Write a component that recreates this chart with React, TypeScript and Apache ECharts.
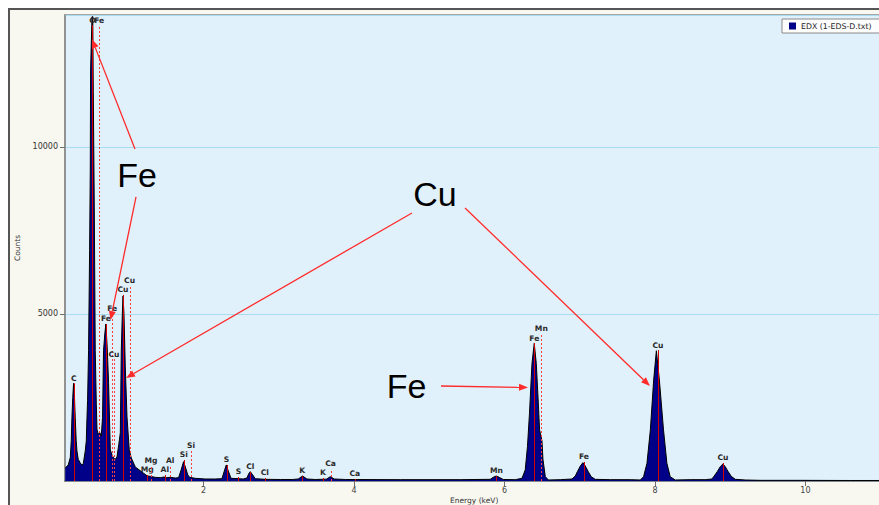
import React, { useEffect, useRef } from "react";
import * as echarts from "echarts";

// EDX spectrum: [energy keV, counts]
const spectrum: [number, number][] = [
  [0.163, 390], [0.177, 420], [0.203, 480], [0.23, 700], [0.243, 1200], [0.252, 1900],
  [0.263, 2500], [0.274, 2925], [0.286, 2500], [0.296, 1900], [0.309, 1200], [0.319, 900],
  [0.336, 650], [0.363, 540], [0.385, 480], [0.403, 520], [0.429, 900], [0.443, 1200],
  [0.452, 1900], [0.46, 2400], [0.473, 3900], [0.487, 6900], [0.496, 9370], [0.5, 12300],
  [0.519, 13900], [0.529, 13900], [0.536, 11650], [0.549, 8200], [0.562, 3900], [0.576, 2300],
  [0.585, 1550], [0.602, 1400], [0.622, 1450], [0.642, 1350], [0.659, 1900], [0.672, 3900],
  [0.689, 4400], [0.703, 4700], [0.721, 4000], [0.739, 2950], [0.762, 930], [0.782, 800],
  [0.805, 690], [0.828, 650], [0.851, 720], [0.875, 1100], [0.895, 1440], [0.908, 3920],
  [0.922, 5000], [0.931, 5540], [0.944, 5000], [0.961, 3420], [0.984, 1920], [1.014, 930],
  [1.041, 690], [1.094, 420], [1.183, 270], [1.253, 150], [1.293, 140], [1.359, 110],
  [1.426, 100], [1.479, 120], [1.505, 100], [1.558, 110], [1.625, 90], [1.669, 100],
  [1.699, 300], [1.736, 580], [1.765, 380], [1.792, 180], [1.816, 110], [1.891, 80],
  [2.024, 60], [2.157, 60], [2.246, 70], [2.277, 300], [2.303, 480], [2.33, 300],
  [2.366, 80], [2.463, 70], [2.529, 60], [2.578, 90], [2.602, 220], [2.622, 280],
  [2.649, 200], [2.689, 70], [2.822, 50], [3.021, 45], [3.18, 45], [3.26, 60],
  [3.317, 150], [3.375, 60], [3.486, 45], [3.633, 55], [3.686, 130], [3.739, 60],
  [3.886, 45], [4.615, 40], [5.412, 40], [5.811, 50], [5.851, 110], [5.891, 150],
  [5.931, 110], [5.984, 45], [6.144, 40], [6.233, 80], [6.276, 330], [6.306, 1030],
  [6.333, 2030], [6.366, 3520], [6.396, 4120], [6.423, 3520], [6.446, 2520], [6.467, 1530],
  [6.499, 1200], [6.512, 650], [6.543, 130], [6.585, 30], [6.742, 40], [6.898, 60],
  [6.942, 150], [6.969, 280], [7.009, 450], [7.043, 550], [7.074, 450], [7.114, 280],
  [7.153, 130], [7.207, 50], [7.407, 40], [7.673, 40], [7.806, 30], [7.849, 130],
  [7.894, 530], [7.939, 1530], [7.983, 3020], [8.019, 3900], [8.059, 3020], [8.114, 1530],
  [8.159, 530], [8.203, 130], [8.27, 30], [8.469, 40], [8.669, 40], [8.757, 60],
  [8.788, 150], [8.828, 280], [8.868, 430], [8.904, 510], [8.934, 430], [8.974, 280],
  [9.014, 140], [9.068, 50], [9.201, 30], [9.4, 20], [9.932, 20], [10.597, 15], [10.982, 15],
];

// Identified element lines
const lineLabels = [
  "C", "O", "Fe", "Fe", "Fe", "Cu", "Cu", "Cu", "Mg", "Mg", "Al", "Al", "Si", "Si",
  "S", "S", "Cl", "Cl", "K", "K", "Ca", "Ca", "Mn", "Fe", "Mn", "Fe", "Cu", "Cu",
];
const lineEnergy = [
  0.277, 0.525, 0.615, 0.705, 0.788, 0.811, 0.93, 1.018, 1.253, 1.302, 1.486, 1.557, 1.74, 1.836,
  2.307, 2.464, 2.622, 2.815, 3.312, 3.589, 3.69, 4.012, 5.894, 6.398, 6.49, 7.057, 8.04, 8.904,
];
const lineHeight = [
  2925, 13650, 13650, 4700, 5000, 3650, 5570, 5840, 180, 450, 180, 450, 630, 900,
  480, 120, 270, 90, 150, 90, 360, 60, 150, 4130, 4430, 570, 3920, 540,
];
// 1 = secondary line, drawn dotted
const lineDotted = [
  0, 0, 1, 0, 1, 1, 0, 1, 0, 1, 0, 1, 0, 1,
  0, 0, 0, 0, 0, 0, 1, 0, 0, 0, 1, 0, 0, 0,
];

// Callout texts and arrows, in [keV, counts]
const calloutTexts = ["Fe", "Cu", "Fe"];
const calloutAt: [number, number][] = [[1.117, 9147], [5.077, 8593], [4.698, 2844]];
const arrowFrom: [number, number][] = [
  [1.09, 9940], [1.104, 8503], [4.771, 8024], [5.476, 8174], [5.157, 2844],
];
const arrowTo: [number, number][] = [
  [0.519, 13224], [0.765, 4820], [0.971, 3084], [7.934, 2844], [6.313, 2799],
];

const xTicks = [2, 4, 6, 8, 10];
const SERIES_NAME = "EDX (1-EDS-D.txt)";

export default function App() {
  const ref = useRef<HTMLDivElement>(null);

  useEffect(() => {
    document.documentElement.style.overflow = "hidden";
    const chart = echarts.init(ref.current!, null, { renderer: "svg" });
    const labelFont = "bold 7.6px 'DejaVu Sans', sans-serif";

    chart.setOption({
      animation: false,
      grid: {
        left: 55,
        top: 5,
        width: 853.3,
        height: 466,
        outerBoundsMode: "none",
        containLabel: false,
        show: true,
        backgroundColor: "#e1f1fb",
        borderColor: "#8c8c8c",
        borderWidth: 1.5,
      },
      legend: {
        data: [{ name: SERIES_NAME, icon: "rect" }],
        left: 772,
        top: 9,
        itemWidth: 7,
        itemHeight: 7,
        itemGap: 5,
        padding: [3, 8, 3, 7],
        backgroundColor: "#fdfdfd",
        borderColor: "#8a8a8a",
        borderWidth: 1,
        textStyle: { fontSize: 7.8, color: "#222", fontFamily: "DejaVu Sans" },
      },
      xAxis: {
        type: "value",
        min: 0.16,
        max: 11.5,
        axisLine: { show: true, lineStyle: { color: "#6e6e6e", width: 1.5 } },
        axisTick: { show: true, length: 5, customValues: xTicks, lineStyle: { color: "#6e6e6e" } },
        axisLabel: {
          customValues: xTicks,
          fontSize: 8,
          color: "#444",
          margin: 5,
          fontFamily: "DejaVu Sans",
          formatter: (v: number) => String(v),
        },
        splitLine: { show: false },
      },
      yAxis: {
        type: "value",
        min: 0,
        max: 13950,
        interval: 5000,
        name: "Counts",
        nameLocation: "middle",
        nameGap: 43,
        nameRotate: 90,
        nameTextStyle: { fontSize: 7.5, color: "#333", fontFamily: "DejaVu Sans" },
        axisLine: { show: true, lineStyle: { color: "#8c8c8c", width: 1.5 } },
        axisTick: { show: true, length: 5, lineStyle: { color: "#6e6e6e" } },
        axisLabel: {
          fontSize: 8,
          color: "#333",
          margin: 7,
          showMinLabel: false,
          showMaxLabel: false,
          fontFamily: "DejaVu Sans",
          formatter: (v: number) => String(v),
        },
        splitLine: { show: true, lineStyle: { color: "#a9dcf3", width: 1 } },
      },
      series: [
        {
          name: SERIES_NAME,
          type: "line",
          data: spectrum,
          color: "#000088",
          showSymbol: false,
          symbol: "none",
          lineStyle: { color: "#000", width: 1 },
          areaStyle: { color: "#000088", opacity: 1 },
          z: 2,
        },
        {
          type: "custom",
          silent: true,
          z: 3,
          data: lineEnergy.map((e, i) => [e, lineHeight[i], lineDotted[i]]),
          renderItem: (params: any, api: any) => {
            const e = api.value(0);
            const h = api.value(1);
            const dotted = api.value(2) === 1;
            const p0 = api.coord([e, 0]);
            const p1 = api.coord([e, h]);
            const x = Math.round(p0[0]) + 0.5;
            return {
              type: "group",
              children: [
                {
                  type: "line",
                  shape: { x1: x, y1: p0[1], x2: x, y2: p1[1] },
                  style: {
                    stroke: dotted ? "#ff3c3c" : "#d40000",
                    lineWidth: 1,
                    lineDash: dotted ? [2, 2] : null,
                  },
                },
                {
                  type: "text",
                  x: p1[0],
                  y: p1[1] - 1,
                  style: {
                    text: lineLabels[params.dataIndex],
                    font: labelFont,
                    fill: "#2a2a2a",
                    align: "center",
                    verticalAlign: "bottom",
                  },
                },
              ],
            };
          },
        },
      ],
    });

    // Callout texts and red arrows placed through the grid's coordinate system
    const toPx = (p: [number, number]) =>
      chart.convertToPixel({ xAxisIndex: 0, yAxisIndex: 0 }, p) as number[];
    const graphics: any[] = [];
    calloutTexts.forEach((t, i) => {
      const p = toPx(calloutAt[i]);
      graphics.push({
        type: "text",
        x: p[0],
        y: p[1],
        z: 10,
        style: {
          text: t,
          font: "34px 'Liberation Sans', Arial, sans-serif",
          fill: "#000",
          align: "center",
          verticalAlign: "middle",
        },
      });
    });
    arrowFrom.forEach((from, i) => {
      const a = toPx(from);
      const b = toPx(arrowTo[i]);
      const dx = b[0] - a[0];
      const dy = b[1] - a[1];
      const len = Math.hypot(dx, dy);
      const ux = dx / len;
      const uy = dy / len;
      const head = 9;
      const half = 3.5;
      const bx = b[0] - ux * head;
      const by = b[1] - uy * head;
      graphics.push({
        type: "line",
        z: 10,
        shape: { x1: a[0], y1: a[1], x2: bx, y2: by },
        style: { stroke: "#ff2a2a", lineWidth: 1.3 },
      });
      graphics.push({
        type: "polygon",
        z: 10,
        shape: {
          points: [
            [b[0], b[1]],
            [bx - uy * half, by + ux * half],
            [bx + uy * half, by - ux * half],
          ],
        },
        style: { fill: "#ff2a2a" },
      });
    });
    graphics.push({
      type: "text",
      x: 440,
      y: 486,
      z: 10,
      style: {
        text: "Energy (keV)",
        font: "7.5px 'DejaVu Sans', sans-serif",
        fill: "#333",
        verticalAlign: "top",
      },
    });
    chart.setOption({ graphic: graphics });

    return () => chart.dispose();
  }, []);

  return (
    <div
      style={{
        position: "fixed",
        left: 8,
        top: 8,
        width: 871,
        height: 497,
        boxSizing: "border-box",
        borderTop: "2px solid #555",
        borderLeft: "2px solid #555",
        background: "#f8f8f0",
        overflow: "hidden",
      }}
    >
      <div ref={ref} style={{ width: 920, height: 520 }} />
    </div>
  );
}
